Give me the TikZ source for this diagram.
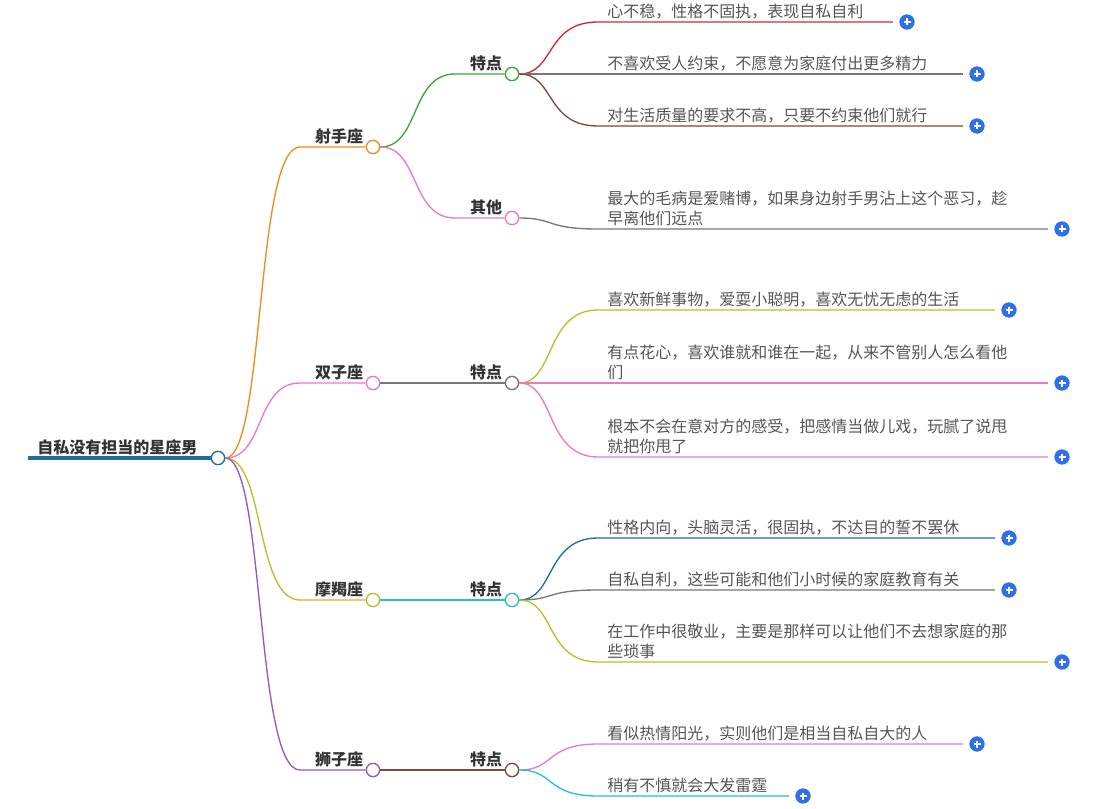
\documentclass[tikz,border=0pt]{standalone}
\usepackage{fontspec}
\setmainfont{Noto Sans CJK SC}
\usetikzlibrary{calc}
\definecolor{txt}{HTML}{555555}
\definecolor{hd}{HTML}{333333}
\definecolor{cOr}{HTML}{F08A1C}
\definecolor{cPk}{HTML}{E87BC3}
\definecolor{cOl}{HTML}{BDBD2A}
\definecolor{cPu}{HTML}{8E5CC0}
\definecolor{cGr}{HTML}{3DA53D}
\definecolor{cRd}{HTML}{D62828}
\definecolor{cGy}{HTML}{777777}
\definecolor{cBr}{HTML}{7B4A3A}
\definecolor{cCy}{HTML}{27C0D0}
\definecolor{cBl}{HTML}{1F6E9C}
\definecolor{plusblue}{HTML}{2F6FE8}
\tikzset{
  hub/.style={circle, draw=#1, fill=white, line width=1pt, inner sep=0pt, minimum size=10pt},
  head/.style={font=\bfseries\fontsize{12}{14}\selectfont, text=hd, inner sep=0pt},
  leaf/.style={font=\fontsize{12}{15}\selectfont, text=txt, anchor=south west, inner sep=0pt, align=left},
  plus/.style={circle, fill=plusblue, inner sep=0pt, minimum size=11.5pt},
}
\begin{document}
\begin{tikzpicture}[x=0.75pt, y=-0.75pt]
  \useasboundingbox (0,0) rectangle (1099,809);

  % root
  \draw[cBl, line width=2.5pt] (28,458) -- (212,458);
  \node[head, anchor=south west] (root-text) at (37,455) {自私没有担当的星座男};
  \node[hub=cBl] (root) at (218,458) {};

  % signs
  \foreach \nm/\yy/\cc/\tx in {sag/147/cOr/射手座, gem/383/cPk/双子座, cap/600/cOl/摩羯座, leo/770/cPu/狮子座}{
    \node[hub=\cc] (\nm) at (373,\yy) {};
    \node[head, anchor=south] (\nm-text) at (339,\yy-3) {\tx};
    \draw[\cc, line width=1pt] (root.east) .. controls (265,458) and (255,\yy) .. (300,\yy) -- (\nm.west);
  }

  % sub nodes
  \node[hub=cGr] (sag-a) at (512,74) {};
  \node[head, anchor=south] at (486,71) {特点};
  \draw[cGr, line width=1pt] (sag.east) .. controls (420,147) and (410,74) .. (455,74) -- (sag-a.west);
  \node[hub=cPk] (sag-b) at (512,218) {};
  \node[head, anchor=south] at (486,215) {其他};
  \draw[cPk, line width=1pt] (sag.east) .. controls (420,147) and (410,218) .. (455,218) -- (sag-b.west);
  \node[hub=cGy] (gem-a) at (512,383) {};
  \node[head, anchor=south] at (486,380) {特点};
  \draw[cGy, line width=1pt] (gem.east) -- (gem-a.west);
  \node[hub=cCy] (cap-a) at (512,600) {};
  \node[head, anchor=south] at (486,597) {特点};
  \draw[cCy, line width=1pt] (cap.east) -- (cap-a.west);
  \node[hub=cBr] (leo-a) at (512,770) {};
  \node[head, anchor=south] at (486,767) {特点};
  \draw[cBr, line width=1pt] (leo.east) -- (leo-a.west);

  % leaves: parent/parent y/name/y/line end/colour/text
  \foreach \pa/\py/\nm/\yy/\xe/\cc/\tx in {
    sag-a/74/l1/22/893/cRd/{心不稳，性格不固执，表现自私自利},
    sag-a/74/l2/74/963/cGy/{不喜欢受人约束，不愿意为家庭付出更多精力},
    sag-a/74/l3/126/963/cBr/{对生活质量的要求不高，只要不约束他们就行},
    sag-b/218/l4/229/1048/cGy/{最大的毛病是爱赌博，如果身边射手男沾上这个恶习，趁\\早离他们远点},
    gem-a/383/l5/310/995/cOl/{喜欢新鲜事物，爱耍小聪明，喜欢无忧无虑的生活},
    gem-a/383/l6/383/1048/cPk/{有点花心，喜欢谁就和谁在一起，从来不管别人怎么看他\\们},
    gem-a/383/l7/457/1048/cPk/{根本不会在意对方的感受，把感情当做儿戏，玩腻了说甩\\就把你甩了},
    cap-a/600/l8/538/995/cBl/{性格内向，头脑灵活，很固执，不达目的誓不罢休},
    cap-a/600/l9/590/995/cGy/{自私自利，这些可能和他们小时候的家庭教育有关},
    cap-a/600/l10/662/1048/cOl/{在工作中很敬业，主要是那样可以让他们不去想家庭的那\\些琐事},
    leo-a/770/l11/744/963/cPk/{看似热情阳光，实则他们是相当自私自大的人},
    leo-a/770/l12/796/789/cCy/{稍有不慎就会大发雷霆}}{
    \coordinate (\nm-end) at (\xe,\yy);
    \draw[\cc, line width=1pt] (\pa.east) .. controls (555,\py) and (545,\yy) .. (598,\yy) -- (\nm-end);
    \node[leaf] (\nm) at (607,\yy-3) {\tx};
    \node[plus] (\nm-plus) at (\xe+14,\yy) {};
    \draw[white, line width=1.2pt] ($(\nm-plus)+(-3.5,0)$) -- ($(\nm-plus)+(3.5,0)$)
      ($(\nm-plus)+(0,-3.5)$) -- ($(\nm-plus)+(0,3.5)$);
  }
\end{tikzpicture}
\end{document}
